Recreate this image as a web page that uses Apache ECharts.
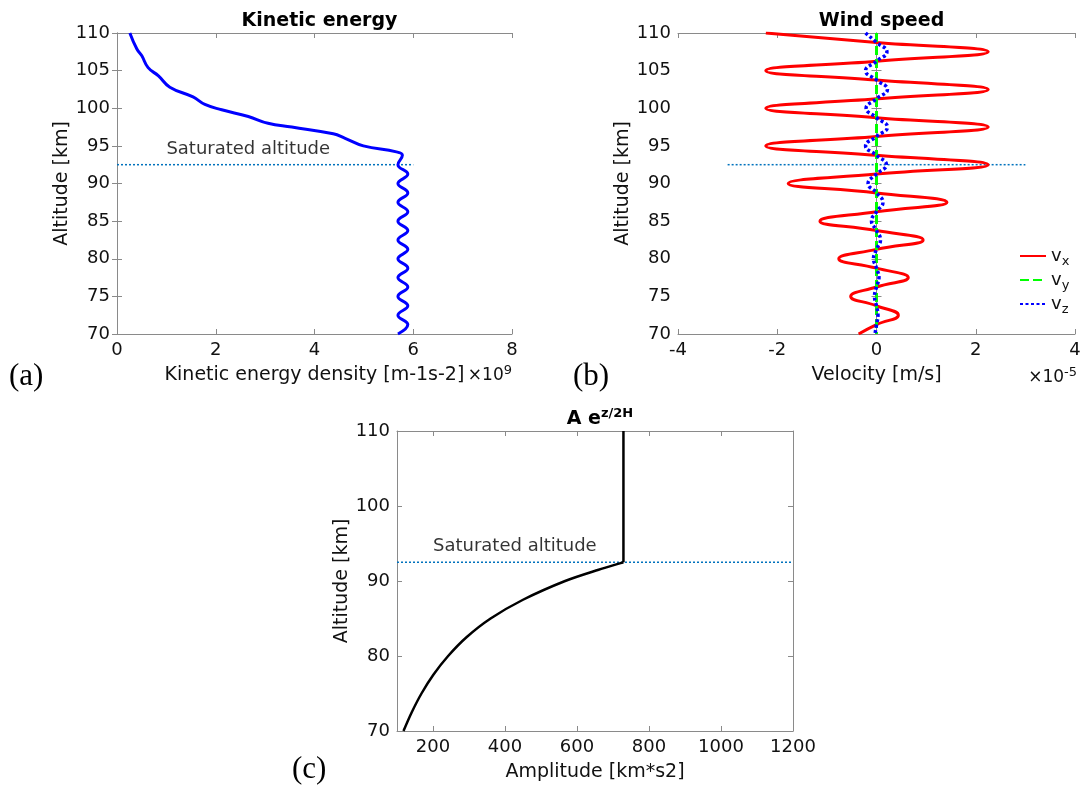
<!DOCTYPE html>
<html>
<head>
<meta charset="utf-8">
<script src="https://cdn.jsdelivr.net/npm/echarts@6/dist/echarts.min.js"></script>
<style>
html,body{margin:0;padding:0;background:#fff;}
#c{width:1085px;height:792px;}
</style>
</head>
<body>
<div id="c"></div>
<script>
// ---------- DATA ----------
// Panel (a): kinetic energy density (x 1e9) vs altitude
const keAlt = [110, 107.9, 107, 105.4, 104.3, 102.8, 101.5, 100.5, 99.8, 98.9, 98, 97.5, 96.6, 96, 95, 94.2, 93.75,
  92.5, 91.25, 90, 88.75, 87.5, 86.25, 85, 83.75, 82.5, 81.25, 80, 78.75, 77.5, 76.25, 75, 73.75, 72.5, 71.25, 70];
const keVal = [0.26, 0.40, 0.50, 0.63, 0.84, 1.07, 1.54, 1.78, 2.12, 2.66, 3.06, 3.54, 4.38, 4.62, 4.99, 5.66, 5.78,
  5.69, 5.89, 5.69, 5.89, 5.69, 5.89, 5.69, 5.89, 5.69, 5.89, 5.69, 5.89, 5.69, 5.89, 5.69, 5.89, 5.69, 5.89, 5.69];

// Panel (b): wind speed components (x 1e-5 m/s) vs altitude
const windAlt = [110, 108.75, 107.5, 106.25, 105, 103.75, 102.5, 101.25, 100, 98.75, 97.5, 96.25, 95, 93.75, 92.5,
  91.25, 90, 88.75, 87.5, 86.25, 85, 83.75, 82.5, 81.25, 80, 78.75, 77.5, 76.25, 75, 73.75, 72.5, 71.25, 70];
const vx = [-2.23, 0, 2.25, 0, -2.23, 0, 2.25, 0, -2.23, 0, 2.25, 0, -2.23, 0, 2.25,
  0, -1.78, 0, 1.42, 0, -1.14, 0, 0.94, 0, -0.76, 0, 0.64, 0, -0.52, 0, 0.44, 0, -0.36];
const vy = [0, 0, 0, 0, 0, 0, 0, 0, 0, 0, 0, 0, 0, 0, 0,
  0, 0, 0, 0, 0, 0, 0, 0, 0, 0, 0, 0, 0, 0, 0, 0, 0, 0];
const vz = [-0.22, 0, 0.21, 0, -0.22, 0, 0.22, 0, -0.21, 0, 0.22, 0, -0.22, 0, 0.2,
  0, -0.17, 0, 0.13, 0, -0.1, 0, 0.08, 0, -0.06, 0, 0.05, 0, -0.04, 0, 0.03, 0, -0.03];

// Panel (c): amplitude A e^{z/2H} vs altitude
const ampAlt = [70, 72.5, 75, 77.5, 80, 82.5, 85, 87.5, 90, 91.5, 92.5];
const ampVal = [118, 141, 168, 201, 242, 293, 360, 450, 567, 660, 729];
const ampTopAlt = [92.5, 110];
const ampTopVal = [729, 729];

// Saturated altitude
const satAlt = 92.5;
const satA = [0, 6];
const satB = [-3, 3];
const satC = [100, 1200];
const satLabelA = [1.0, 94.6];
const satLabelC = [200, 94.6];

// Tick values
const ampTicks = [200, 400, 600, 800, 1000, 1200];

// ---------- CHART ----------
const axisGray = '#8a8a8a';
const txt = '#111';
const FONT = 'DejaVu Sans';

function pairs(xs, ys) { return xs.map((x, i) => [x, ys[i]]); }

const grids = [
  {left: 117, top: 33, width: 395, height: 301},
  {left: 678, top: 33, width: 397, height: 301},
  {left: 397, top: 431, width: 396, height: 300}
];

const xAxes = [], yAxes = [];
function addAxes(gi, xmin, xmax, xint, ymin, ymax, yint, xname, yname, custom) {
  const tick = {show: true, inside: true, length: 5, lineStyle: {color: axisGray, width: 1}};
  const line = {show: true, lineStyle: {color: axisGray, width: 1}};
  const xb = {
    type: 'value', gridIndex: gi, position: 'bottom', min: xmin, max: xmax,
    axisLine: line, splitLine: {show: false},
    axisTick: Object.assign({}, tick),
    axisLabel: {color: txt, fontSize: 18, fontFamily: FONT, margin: 7, formatter: v => String(v)},
    name: xname, nameLocation: 'middle', nameGap: 32,
    nameTextStyle: {color: txt, fontSize: 19, fontFamily: FONT}
  };
  const xt = {
    type: 'value', gridIndex: gi, position: 'top', min: xmin, max: xmax,
    axisLine: line, splitLine: {show: false},
    axisTick: Object.assign({}, tick), axisLabel: {show: false}
  };
  if (custom) {
    xb.axisTick.customValues = custom; xb.axisLabel.customValues = custom;
    xt.axisTick.customValues = custom; xt.axisLabel.customValues = custom;
  } else {
    xb.interval = xint; xt.interval = xint;
  }
  xAxes.push(xb, xt);
  yAxes.push({
    type: 'value', gridIndex: gi, position: 'left', min: ymin, max: ymax, interval: yint,
    axisLine: line, splitLine: {show: false}, axisTick: tick,
    axisLabel: {color: txt, fontSize: 18, fontFamily: FONT, margin: 7},
    name: yname, nameLocation: 'middle', nameGap: 43, nameRotate: 90,
    nameTextStyle: {color: txt, fontSize: 19, fontFamily: FONT}
  }, {
    type: 'value', gridIndex: gi, position: 'right', min: ymin, max: ymax, interval: yint,
    axisLine: line, splitLine: {show: false}, axisTick: tick, axisLabel: {show: false}
  });
}
addAxes(0, 0, 8, 2, 70, 110, 5, 'Kinetic energy density [m-1s-2]', 'Altitude [km]');
addAxes(1, -4, 4, 2, 70, 110, 5, 'Velocity [m/s]', 'Altitude [km]');
addAxes(2, 100, 1200, 200, 70, 110, 10, 'Amplitude [km*s2]', 'Altitude [km]', ampTicks);

const satStyle = {color: '#0072BD', width: 1.5, type: [2, 2]};
function satSeries(ax, xs) {
  return {type: 'line', xAxisIndex: ax * 2, yAxisIndex: ax * 2, data: xs.map(x => [x, satAlt]),
    symbol: 'none', lineStyle: satStyle, silent: true, z: 3};
}
function labelSeries(ax, pt) {
  return {type: 'scatter', xAxisIndex: ax * 2, yAxisIndex: ax * 2, data: [pt], symbolSize: 0, silent: true,
    label: {show: true, position: 'right', distance: 0, formatter: 'Saturated altitude',
      color: '#000', textBorderWidth: 0, fontSize: 18, fontFamily: FONT}};
}

const option = {
  animation: false,
  backgroundColor: '#fff',
  grid: grids,
  xAxis: xAxes,
  yAxis: yAxes,
  title: [
    {text: 'Kinetic energy', left: 314.5, top: 7, textAlign: 'center',
      textStyle: {fontSize: 19, fontWeight: 'bold', color: '#000', fontFamily: FONT}},
    {text: 'Wind speed', left: 876.5, top: 7, textAlign: 'center',
      textStyle: {fontSize: 19, fontWeight: 'bold', color: '#000', fontFamily: FONT}},
    {text: 'A e{sup|z/2H}', left: 595, top: 402, textAlign: 'center',
      textStyle: {fontSize: 19, fontWeight: 'bold', color: '#000', fontFamily: FONT,
        rich: {sup: {fontSize: 13, fontWeight: 'bold', color: '#000', fontFamily: FONT, padding: [0, 0, 11, 0]}}}}
  ],
  legend: {
    data: ['v_x', 'v_y', 'v_z'],
    orient: 'vertical', left: 1014, top: 242, itemWidth: 26, itemHeight: 10, itemGap: 3,
    itemStyle: {opacity: 0},
    formatter: function (n) { return 'v{sub|' + n.slice(2) + '}'; },
    textStyle: {fontSize: 18, color: txt, fontFamily: FONT,
      rich: {sub: {fontSize: 13, color: txt, fontFamily: FONT, padding: [11, 0, 0, 0]}}},
    inactiveColor: '#ccc'
  },
  graphic: [
    {type: 'text', left: 9, top: 361, style: {text: '(a)', font: '31px "Liberation Serif"', fill: '#000'}},
    {type: 'text', left: 573, top: 361, style: {text: '(b)', font: '31px "Liberation Serif"', fill: '#000'}},
    {type: 'text', left: 292, top: 754, style: {text: '(c)', font: '31px "Liberation Serif"', fill: '#000'}},
    {type: 'text', right: 1085 - 512, top: 364, style: {text: '×10{sup|9}', fill: txt,
      font: '17px "DejaVu Sans"', rich: {sup: {fontSize: 13, fontFamily: FONT, padding: [0, 0, 11, 0]}}}},
    {type: 'text', right: 1085 - 1077, top: 366, style: {text: '×10{sup|-5}', fill: txt,
      font: '17px "DejaVu Sans"', rich: {sup: {fontSize: 13, fontFamily: FONT, padding: [0, 0, 11, 0]}}}}
  ],
  series: [
    satSeries(0, satA), labelSeries(0, satLabelA),
    {type: 'line', name: 'KE', xAxisIndex: 0, yAxisIndex: 0, data: pairs(keVal, keAlt), symbol: 'none',
      smooth: 0.45, lineStyle: {color: '#0000ff', width: 3}, z: 4},
    satSeries(1, satB),
    {type: 'line', name: 'v_x', xAxisIndex: 2, yAxisIndex: 2, data: pairs(vx, windAlt), symbol: 'none',
      smooth: 0.5, color: '#ff0000', lineStyle: {color: '#ff0000', width: 3}, z: 4},
    {type: 'line', name: 'v_y', xAxisIndex: 2, yAxisIndex: 2, data: pairs(vy, windAlt), symbol: 'none',
      color: '#00ff00', lineStyle: {color: '#00ff00', width: 3, type: [9, 4]}, z: 4},
    {type: 'line', name: 'v_z', xAxisIndex: 2, yAxisIndex: 2, data: pairs(vz, windAlt), symbol: 'none',
      smooth: 0.5, color: '#0000ff', lineStyle: {color: '#0000ff', width: 3.5, type: [3, 2.5]}, z: 5},
    satSeries(2, satC), labelSeries(2, satLabelC),
    {type: 'line', name: 'A', xAxisIndex: 4, yAxisIndex: 4, data: pairs(ampVal, ampAlt), symbol: 'none',
      smooth: 0.3, lineStyle: {color: '#000', width: 2.5}, z: 4},
    {type: 'line', name: 'Atop', xAxisIndex: 4, yAxisIndex: 4, data: pairs(ampTopVal, ampTopAlt), symbol: 'none',
      lineStyle: {color: '#000', width: 2.5}, z: 4}
  ]
};
const chart = echarts.init(document.getElementById('c'), null, {renderer: 'canvas'});
chart.setOption(option);
</script>
</body>
</html>
